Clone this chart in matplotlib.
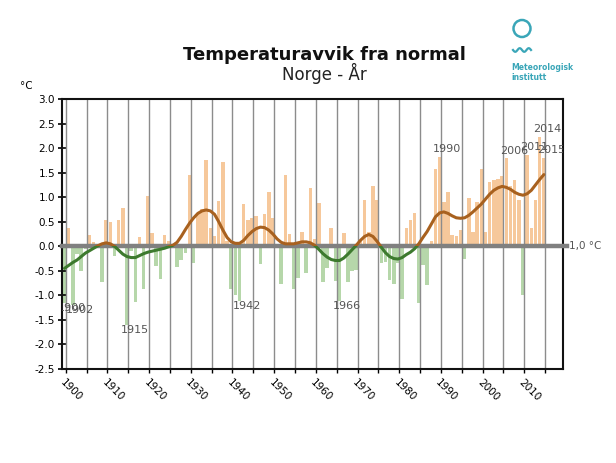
import numpy as np
import matplotlib
matplotlib.use("Agg")
import matplotlib.pyplot as plt
from matplotlib.patches import Rectangle, Ellipse
from matplotlib.lines import Line2D

plt.rcParams['font.family'] = ['DejaVu Sans']
plt.rcParams['axes.unicode_minus'] = False

# ---------------- data ----------------
years = np.arange(1900, 2016)
anomaly = [
    -1.15, 0.38, -1.20, -0.15, -0.50, -0.05, 0.22, 0.08, 0.05, -0.73,   # 1900-1909
    0.53, 0.50, -0.20, 0.53, 0.78, -1.60, -0.10, -1.13, 0.18, -0.88,     # 1910-1919
    1.02, 0.28, -0.40, -0.66, 0.22, 0.10, -0.03, -0.42, -0.27, -0.13,    # 1920-1929
    1.45, -0.35, 0.65, 0.75, 1.76, 0.38, 0.20, 0.92, 1.71, 0.10,         # 1930-1939
    -0.87, -1.00, -1.12, 0.87, 0.53, 0.58, 0.62, -0.37, 0.65, 1.10,      # 1940-1949
    0.57, 0.05, -0.76, 1.45, 0.26, -0.88, -0.65, 0.30, -0.55, 1.18,      # 1950-1959
    0.15, 0.89, -0.72, -0.45, 0.38, -0.70, -1.12, 0.27, -0.73, -0.50,    # 1960-1969
    -0.48, 0.10, 0.94, 0.30, 1.22, 0.94, -0.34, -0.33, -0.68, -0.76,     # 1970-1979
    -0.35, -1.07, 0.38, 0.53, 0.68, -1.15, -0.39, -0.78, 0.10, 1.58,     # 1980-1989
    1.82, 0.90, 1.10, 0.22, 0.21, 0.33, -0.25, 0.98, 0.30, 0.90,         # 1990-1999
    1.58, 0.30, 1.31, 1.35, 1.38, 1.44, 1.79, 1.22, 1.36, 0.95,          # 2000-2009
    -0.99, 1.86, 0.38, 0.94, 2.23, 1.80,                                 # 2010-2015
]
smoothed = [
    -0.45, -0.39, -0.33, -0.28, -0.21, -0.14, -0.09, -0.04, 0.01, 0.05,
    0.07, 0.05, 0.00, -0.08, -0.16, -0.21, -0.23, -0.23, -0.19, -0.15,
    -0.12, -0.10, -0.08, -0.06, -0.04, -0.01, 0.02, 0.08, 0.20, 0.34,
    0.47, 0.58, 0.67, 0.72, 0.74, 0.72, 0.65, 0.50, 0.33, 0.18,
    0.09, 0.06, 0.06, 0.12, 0.22, 0.30, 0.36, 0.39, 0.38, 0.33,
    0.25, 0.15, 0.08, 0.05, 0.05, 0.05, 0.07, 0.09, 0.09, 0.07,
    0.02, -0.06, -0.15, -0.22, -0.27, -0.29, -0.29, -0.24, -0.16, -0.07,
    0.02, 0.12, 0.20, 0.24, 0.20, 0.10, -0.02, -0.13, -0.21, -0.25,
    -0.26, -0.23, -0.17, -0.12, -0.05, 0.05, 0.18, 0.30, 0.45, 0.60,
    0.68, 0.70, 0.67, 0.62, 0.58, 0.57, 0.58, 0.63, 0.70, 0.78,
    0.86, 0.96, 1.06, 1.14, 1.19, 1.22, 1.20, 1.16, 1.10, 1.06,
    1.04, 1.07, 1.14, 1.25, 1.36, 1.46,
]
cold_years = [1900, 1902, 1915, 1942, 1966]
warm_years = [1990, 2006, 2011, 2014, 2015]
tick_years = list(range(1900, 2011, 10))
grid_years = list(range(1900, 2016, 5))
yticks = [-2.5, -2.0, -1.5, -1.0, -0.5, 0.0, 0.5, 1.0, 1.5, 2.0, 2.5, 3.0]

anomaly = np.array(anomaly)
smoothed = np.array(smoothed)

# ---------------- figure ----------------
W, H = 616, 463
fig = plt.figure(figsize=(W / 100, H / 100), dpi=100)
ax = fig.add_axes([62 / W, 94 / H, 501 / W, 270 / H])

xpos = years - 0.3
colors = np.where(anomaly >= 0, '#f6c89b', '#b6d7aa')
ax.bar(xpos, anomaly, width=0.85, color=colors, zorder=1, linewidth=0)

for g in grid_years:
    ax.axvline(g, color='#8c8c8c', lw=1.0, zorder=2)

ax.axhline(0, xmin=0, xmax=1.008, color='#808080', lw=3.2, zorder=3, clip_on=False)

xmin, xmax = 1899.1, 2019.3
ax.set_xlim(xmin, xmax)
ax.set_ylim(-2.5, 3.0)

above = Rectangle((xmin, 0), xmax - xmin, 10, transform=ax.transData)
below = Rectangle((xmin, -10), xmax - xmin, 10, transform=ax.transData)
l1, = ax.plot(xpos, smoothed, color='#a8611f', lw=2.2, zorder=4, solid_capstyle='round')
l1.set_clip_path(above)
l2, = ax.plot(xpos, smoothed, color='#3d7a2e', lw=2.2, zorder=4, solid_capstyle='round')
l2.set_clip_path(below)

# extreme year labels
for yr in cold_years:
    v = anomaly[yr - 1900]
    ax.text(yr + 1.5, v - 0.1, str(yr), ha='center', va='center', fontsize=8,
            color='#555555', zorder=5, clip_on=True)
for yr in warm_years:
    v = anomaly[yr - 1900]
    ax.text(yr + 1.5, v + 0.16, str(yr), ha='center', va='center', fontsize=8,
            color='#555555', zorder=5, clip_on=True)

ax.text(1.012, 0, '1,0 °C', transform=ax.get_yaxis_transform(), ha='left',
        va='center', fontsize=7.5, color='#555555')

# axes styling
ax.set_yticks(yticks)
ax.set_yticklabels([f'{t:.1f}' for t in yticks], fontsize=7.5)
ax.tick_params(axis='y', direction='inout', length=6, width=1.2, pad=2)
ax.set_xticks(tick_years)
ax.set_xticks(grid_years, minor=True)
ax.set_xticklabels([str(t) for t in tick_years], rotation=-45, ha='left',
                   va='top', rotation_mode='anchor', fontsize=7.5)
ax.tick_params(axis='x', which='both', direction='out', length=3, width=1, pad=3)
for s in ax.spines.values():
    s.set_linewidth(1.5)
    s.set_color('#111111')

# titles
fig.text(324 / W, 1 - 55 / H, 'Temperaturavvik fra normal', ha='center', va='center',
         fontsize=13, fontweight='bold', color='#111111')
fig.text(324 / W, 1 - 73 / H, 'Norge - År', ha='center', va='center',
         fontsize=12, color='#222222')
fig.text(20 / W, 1 - 86 / H, '°C', ha='left', va='center', fontsize=7.5)

# logo
teal = '#3aa6b8'
fig.add_artist(Ellipse((522 / W, 1 - 28.5 / H), 17 / W, 17 / H, transform=fig.transFigure,
                       fill=False, edgecolor=teal, lw=1.8))
t = np.linspace(0, 1, 60)
fig.add_artist(Line2D((513 + 18 * t) / W, 1 - (50 + 1.8 * np.sin(t * 4 * np.pi)) / H,
                      transform=fig.transFigure, color=teal, lw=1.6))
fig.text(511 / W, 1 - 67 / H, 'Meteorologisk', ha='left', va='center', fontsize=5.5,
         fontweight='bold', color=teal)
fig.text(511 / W, 1 - 78 / H, 'institutt', ha='left', va='center', fontsize=5.5,
         fontweight='bold', color=teal)

fig.savefig('out.png', dpi=100)
